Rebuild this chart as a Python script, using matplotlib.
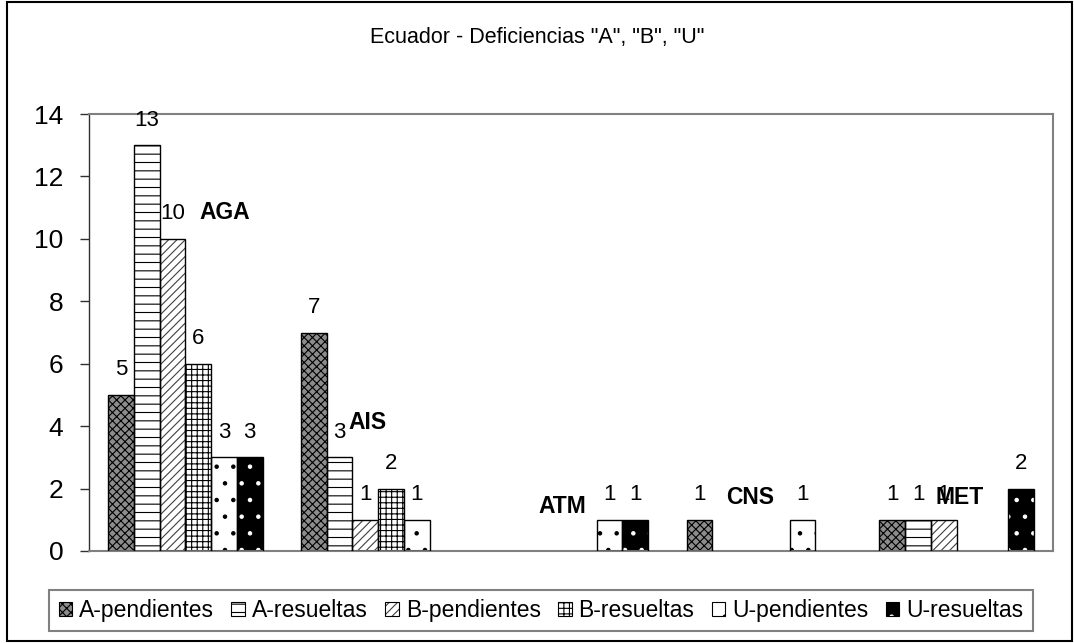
import matplotlib
matplotlib.use("Agg")
import matplotlib.pyplot as plt
from matplotlib.patches import Rectangle, Patch
from matplotlib.legend_handler import HandlerTuple
import numpy as np

plt.rcParams['font.family'] = ['Liberation Sans', 'DejaVu Sans']
plt.rcParams['hatch.linewidth'] = 0.8

# ---- data ----
categories = ["AGA", "AIS", "ATM", "CNS", "MET"]
series_names = ["A-pendientes", "A-resueltas", "B-pendientes",
                "B-resueltas", "U-pendientes", "U-resueltas"]
a_pendientes = [5, 7, 0, 1, 1]
a_resueltas = [13, 3, 0, 0, 1]
b_pendientes = [10, 1, 0, 0, 1]
b_resueltas = [6, 2, 0, 0, 0]
u_pendientes = [3, 1, 1, 1, 0]
u_resueltas = [3, 0, 1, 0, 2]
y_ticks = [0, 2, 4, 6, 8, 10, 12, 14]
title = 'Ecuador - Deficiencias "A", "B", "U"'

series_values = [a_pendientes, a_resueltas, b_pendientes,
                 b_resueltas, u_pendientes, u_resueltas]

# fill colour, hatch pattern, hatch colour for each series
styles = [
    ('#8c8c8c', 'xxxx', 'black'),
    ('white', '--', 'black'),
    ('white', '////', '#404040'),
    ('white', '+++', 'black'),
    ('white', '.', 'black'),
    ('black', '.', 'white'),
]

# category name tags: (x offset from category centre, y in data units)
tag_pos = [(0.205, 10.83), (-0.053, 4.13), (-0.047, 1.41),
           (-0.072, 1.70), (0.018, 1.70)]

W, H = 1074, 643
fig = plt.figure(figsize=(W / 100, H / 100), dpi=100)
ax = fig.add_axes([89 / W, 1 - 551 / H, (1053 - 89) / W, (551 - 114) / H])

x = np.arange(len(categories))
n = len(series_values)
bw = 1 / 7.5  # gap width 150 %

for j, (vals, (fc, hatch, hc)) in enumerate(zip(series_values, styles)):
    xpos = x + (j - (n - 1) / 2) * bw
    vals = np.asarray(vals)
    edge = ['black' if v > 0 else 'none' for v in vals]
    ax.bar(xpos, vals, width=bw, color=fc, edgecolor=hc, hatch=hatch,
           linewidth=0, zorder=2)
    ax.bar(xpos, vals, width=bw, fill=False, edgecolor=edge,
           linewidth=1.0, zorder=3)
    for xp, v in zip(xpos, vals):
        if v > 0:
            ax.annotate(str(v), (xp, v), xytext=(0, 18),
                        textcoords='offset points', ha='center', va='center',
                        fontsize=16, zorder=4)

for i, (cat, (dx, ty)) in enumerate(zip(categories, tag_pos)):
    ax.text(i + dx, ty, cat, ha='center', va='center', fontsize=16.5,
            fontweight='bold', zorder=5)

ax.set_xlim(-0.5, len(categories) - 0.5)
ax.set_ylim(0, 14)
ax.set_xticks([])
ax.set_yticks(y_ticks)
ax.tick_params(axis='y', direction='out', length=6.5, width=1.0,
               color='#303030', pad=12, labelsize=19)
for side in ('top', 'right', 'bottom'):
    ax.spines[side].set_color('#808080')
    ax.spines[side].set_linewidth(1.5)
ax.spines['left'].set_color('#303030')
ax.spines['left'].set_linewidth(1.0)

fig.text(537 / W, 1 - 38 / H, title, ha='center', va='center', fontsize=15.5)

handles = [(Patch(facecolor=fc, hatch=h, edgecolor=hc, linewidth=0),
            Patch(fill=False, edgecolor='black', linewidth=0.8))
           for fc, h, hc in styles]
leg = fig.legend(handles, series_names, ncol=n, loc='center',
                 bbox_to_anchor=(541 / W, 1 - 610.5 / H),
                 bbox_transform=fig.transFigure, fontsize=16.5,
                 handler_map={tuple: HandlerTuple(ndivide=1, pad=0)},
                 handlelength=0.6, handleheight=0.6, handletextpad=0.3,
                 columnspacing=0.75, borderpad=0.4, fancybox=False,
                 framealpha=1, edgecolor='#808080')
leg.get_frame().set_linewidth(1.5)

fig.add_artist(Rectangle((7 / W, 2 / H), (1072 - 7) / W, (641 - 2) / H,
                         transform=fig.transFigure, fill=False,
                         edgecolor='black', linewidth=1.5))

fig.savefig("out.png", dpi=100)
